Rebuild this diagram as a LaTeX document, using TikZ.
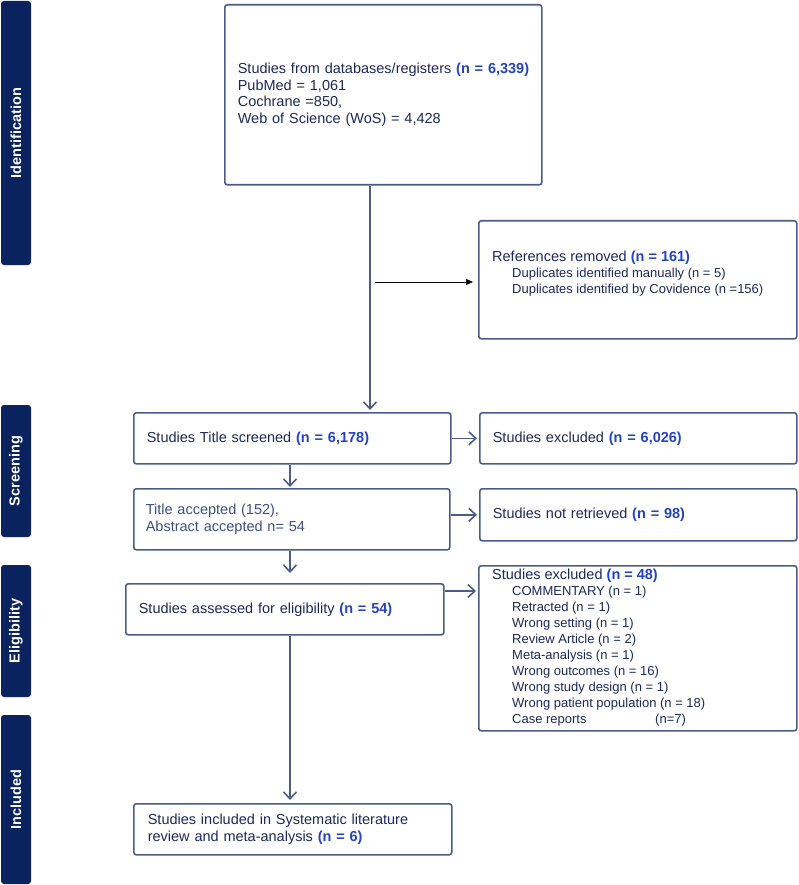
\documentclass[tikz,border=0pt]{standalone}
\usepackage{fontspec}
\setmainfont{Liberation Sans}
\usetikzlibrary{arrows.meta,calc}
\definecolor{navy}{RGB}{28,40,88}
\definecolor{lightnavy}{RGB}{58,80,128}
\definecolor{nblue}{RGB}{36,68,190}
\definecolor{boxc}{RGB}{75,93,134}
\definecolor{barc}{RGB}{10,34,94}
\newcommand{\nb}[1]{{\bfseries\color{nblue}#1}}
\newcommand{\mainsz}{\fontsize{14.5}{16.7}\selectfont}
\newcommand{\subsz}{\fontsize{13}{16}\selectfont}
\begin{document}
\begin{tikzpicture}[x=1pt,y=-1pt,
  box/.style={draw=boxc, line width=1.6pt, rounded corners=2.5pt, anchor=north west,
    inner ysep=0pt, align=left, text=navy, font=\mainsz},
  bar/.style={fill=barc, rounded corners=3pt, rotate=90, text=white,
    font=\fontsize{14.5}{16}\selectfont\bfseries, inner sep=0pt, minimum height=30pt},
  flow/.style={draw=boxc, line width=1.6pt, -{Straight Barb[length=7pt,width=13pt,line width=1.6pt]}},
  thin/.style={draw=black, line width=0.7pt, -{Triangle[length=7pt,width=6pt]}}
]
\useasboundingbox (0,0) rectangle (798,885);

% side bars
\node[bar, minimum width=264pt] (bid) at (16,133) {Identification};
\node[bar, minimum width=132pt] (bsc) at (16,471) {Screening};
\node[bar, minimum width=132pt] (bel) at (16,631) {Eligibility};
\node[bar, minimum width=169pt] (bin) at (16,799.5) {Included};

% boxes
\node[box, inner xsep=13pt, text width=291pt, minimum height=180pt] (db) at (224,4)
  {\mbox{Studies from databases/registers \nb{(n = 6,339)}}\\
   PubMed = 1,061\\
   Cochrane =850,\\
   Web of Science (WoS) = 4,428};

\node[box, minimum width=318pt, minimum height=118pt, inner xsep=0pt] (rem) at (478,220) {};
\node[anchor=west, align=left, text=navy, font=\fontsize{14.5}{16}\selectfont, inner sep=0pt]
  (remt) at ($(rem.west)+(14,-6)$)
  {References removed \nb{(n = 161)}\\
   {\subsz\hspace*{20pt}Duplicates identified manually (n = 5)}\\
   {\subsz\hspace*{20pt}Duplicates identified by Covidence (n =156)}};

\node[box, inner xsep=13pt, text width=291pt, minimum height=51pt] (scr) at (133,412)
  {Studies Title screened \nb{(n = 6,178)}};
\node[box, inner xsep=13pt, text width=291pt, minimum height=51pt] (ex1) at (479,412)
  {Studies excluded \nb{(n = 6,026)}};

\node[box, inner xsep=12pt, text width=292pt, minimum height=61pt, text=lightnavy] (ta) at (133,488)
  {Title accepted (152),\\ Abstract accepted n= 54};
\node[box, inner xsep=13pt, text width=291pt, minimum height=52pt] (nr) at (479,488)
  {Studies not retrieved \nb{(n = 98)}};

\node[box, inner xsep=13pt, text width=292pt, minimum height=51pt] (el) at (125,583)
  {Studies assessed for eligibility \nb{(n = 54)}};

\node[box, minimum width=318pt, minimum height=165pt, inner xsep=0pt] (ex2) at (478,565) {};
\node[anchor=west, align=left, text=navy, font=\fontsize{14.5}{16}\selectfont, inner sep=0pt]
  (ex2t) at ($(ex2.west)+(14,-1)$)
  {Studies excluded \nb{(n = 48)}\\
   {\subsz\hspace*{20pt}COMMENTARY (n = 1)}\\
   {\subsz\hspace*{20pt}Retracted (n = 1)}\\
   {\subsz\hspace*{20pt}Wrong setting (n = 1)}\\
   {\subsz\hspace*{20pt}Review Article (n = 2)}\\
   {\subsz\hspace*{20pt}Meta-analysis (n = 1)}\\
   {\subsz\hspace*{20pt}Wrong outcomes (n = 16)}\\
   {\subsz\hspace*{20pt}Wrong study design (n = 1)}\\
   {\subsz\hspace*{20pt}Wrong patient population (n = 18)}\\
   {\subsz\hspace*{20pt}\makebox[143pt][l]{Case reports}(n=7)}};

\node[box, inner xsep=14pt, text width=290pt, minimum height=51pt] (inc) at (133,803)
  {Studies included in Systematic literature\\ review and meta-analysis \nb{(n = 6)}};

% connectors
\coordinate (v1) at (370,0);
\coordinate (v2) at (290,0);
\coordinate (tstart) at (375,282);
\coordinate (ea) at (0,591);

\draw[flow, shorten >=2pt] (db.south -| v1) -- (scr.north -| v1);
\draw[thin, shorten >=5pt] (tstart) -- (rem.west |- tstart);
\draw[flow, shorten >=2pt] (scr.east) -- (ex1.west);
\draw[flow, shorten >=1pt] (scr.south -| v2) -- (ta.north -| v2);
\draw[flow, shorten >=2pt] (ta.east |- nr.west) -- (nr.west);
\draw[flow, shorten >=10pt] (ta.south -| v2) -- (el.north -| v2);
\draw[flow, shorten >=2pt] (el.east |- ea) -- (ex2.west |- ea);
\draw[flow, shorten >=3pt] (el.south -| v2) -- (inc.north -| v2);
\end{tikzpicture}
\end{document}
